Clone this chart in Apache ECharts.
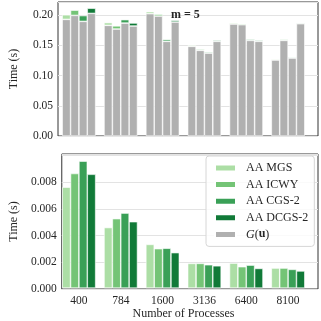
<!DOCTYPE html>
<html><head><meta charset="utf-8">
<script src="https://cdn.jsdelivr.net/npm/echarts@6/dist/echarts.min.js"></script>
<style>html,body{margin:0;padding:0;background:#fff}#c{width:321px;height:321px}</style>
</head><body><div id="c"></div>
<script>
const categories = ['400', '784', '1600', '3136', '6400', '8100'];
const methods = ['AA MGS', 'AA ICWY', 'AA CGS-2', 'AA DCGS-2'];
// AA times (bottom panel, also top segments in top panel)
const aaMGS   = [0.00760, 0.00456, 0.00329, 0.00186, 0.00188, 0.00151];
const aaICWY  = [0.00863, 0.00523, 0.00297, 0.00186, 0.00161, 0.00151];
const aaCGS2  = [0.00956, 0.00565, 0.00300, 0.00176, 0.00173, 0.00141];
const aaDCGS2 = [0.00857, 0.00500, 0.00267, 0.00168, 0.00148, 0.00129];
// G(u) times per run (grey base in top panel)
const gMGS   = [0.1932, 0.1833, 0.2026, 0.1485, 0.1855, 0.1259];
const gICWY  = [0.1998, 0.1772, 0.1987, 0.1419, 0.1844, 0.1584];
const gCGS2  = [0.1899, 0.1871, 0.1568, 0.1374, 0.1584, 0.1292];
const gDCGS2 = [0.2031, 0.1822, 0.1888, 0.1568, 0.1568, 0.1860];
const topTicks = [0.00, 0.05, 0.10, 0.15, 0.20];
const bottomTicks = [0.000, 0.002, 0.004, 0.006, 0.008];

const aaData = [aaMGS, aaICWY, aaCGS2, aaDCGS2];
const gData = [gMGS, gICWY, gCGS2, gDCGS2];
const colors = ['#acdea5', '#74c476', '#3aa057', '#117a38'];
const grey = '#b0b0b0';
const FONT = 'Liberation Serif';
const txt = '#262626';

const frameGrid = {show: true, borderColor: '#333', borderWidth: 1, backgroundColor: 'transparent'};
const grids = [
  Object.assign({left: 50, right: 3, top: 2, bottom: 185}, frameGrid),
  {left: 58, right: 12, top: 2, bottom: 185},
  Object.assign({left: 50, right: 3, top: 154, bottom: 32}, frameGrid),
  {left: 58, right: 12, top: 154, bottom: 32}
];

function frameY(gi, max, interval, ticks, dec) {
  return {
    type: 'value', gridIndex: gi, min: 0, max: max, interval: interval,
    name: 'Time (s)', nameLocation: 'middle', nameGap: 38, nameRotate: 90,
    nameTextStyle: {fontFamily: FONT, fontSize: 12, color: txt},
    axisLine: {show: false}, axisTick: {show: false},
    axisLabel: {fontFamily: FONT, fontSize: 11.5, color: txt, margin: 5,
      formatter: v => ticks.some(t => Math.abs(t - v) < interval * 1e-3) ? v.toFixed(dec) : ''},
    splitLine: {lineStyle: {color: '#e3e3e3', width: 1}}
  };
}
function hiddenY(gi, max) {
  return {type: 'value', gridIndex: gi, min: 0, max: max, show: false, splitLine: {show: false}};
}

const yAxes = [
  frameY(0, 0.222, 0.05, topTicks, 2),
  hiddenY(1, 0.222),
  frameY(2, 0.0101, 0.002, bottomTicks, 3),
  hiddenY(3, 0.0101)
];
const xAxes = [
  {type: 'value', gridIndex: 0, min: 0, max: 1, show: false},
  {type: 'category', gridIndex: 1, data: categories, axisLine: {show: false}, axisTick: {show: false},
   axisLabel: {show: false}},
  {type: 'value', gridIndex: 2, min: 0, max: 1, show: false},
  {type: 'category', gridIndex: 3, data: categories, axisLine: {show: false}, axisTick: {show: false},
   axisLabel: {fontFamily: FONT, fontSize: 11.5, color: txt, margin: 7},
   name: 'Number of Processes', nameLocation: 'middle', nameGap: 19,
   nameTextStyle: {fontFamily: FONT, fontSize: 12, color: txt}}
];

const barCommon = {type: 'bar', barCategoryGap: '20%', barGap: '0%', emphasis: {disabled: true}};
const series = [];
methods.forEach((m, i) => {
  series.push(Object.assign({}, barCommon, {name: 'G(u)', xAxisIndex: 1, yAxisIndex: 1, stack: 's' + i,
    data: gData[i], itemStyle: {color: grey, borderColor: '#fff', borderWidth: 0.6}}));
  series.push(Object.assign({}, barCommon, {name: m, xAxisIndex: 1, yAxisIndex: 1, stack: 's' + i,
    data: aaData[i], itemStyle: {color: colors[i], borderColor: '#fff', borderWidth: 0.6}}));
});
methods.forEach((m, i) => {
  series.push(Object.assign({}, barCommon, {name: m, xAxisIndex: 3, yAxisIndex: 3,
    data: aaData[i], itemStyle: {color: colors[i], borderColor: '#fff', borderWidth: 0.6}}));
});

const chart = echarts.init(document.getElementById('c'), null, {renderer: 'canvas'});
chart.setOption({
  animation: false,
  color: colors,
  title: {text: 'm = 5', left: 166, top: 4,
    textStyle: {fontFamily: FONT, fontSize: 12, fontWeight: 'bold', color: txt}},
  grid: grids,
  xAxis: xAxes,
  yAxis: yAxes,
  legend: {
    data: methods.concat(['G(u)']),
    orient: 'vertical', left: 206, top: 156,
    padding: [5, 6, 5, 8], itemGap: 2.6, itemWidth: 21, itemHeight: 7, icon: 'rect',
    selectedMode: false,
    backgroundColor: 'rgba(255,255,255,0.8)', borderColor: '#d6d6d6', borderWidth: 1, borderRadius: 3,
    textStyle: {fontFamily: FONT, fontSize: 12, color: txt, lineHeight: 14, padding: [0, 0, 0, 5],
      rich: {
        it: {fontFamily: FONT, fontSize: 12, fontStyle: 'italic', color: txt},
        bd: {fontFamily: FONT, fontSize: 12, fontWeight: 'bold', color: txt}
      }},
    formatter: n => n === 'G(u)' ? '{it|G}({bd|u})' : n
  },
  series: series
});
</script></body></html>
